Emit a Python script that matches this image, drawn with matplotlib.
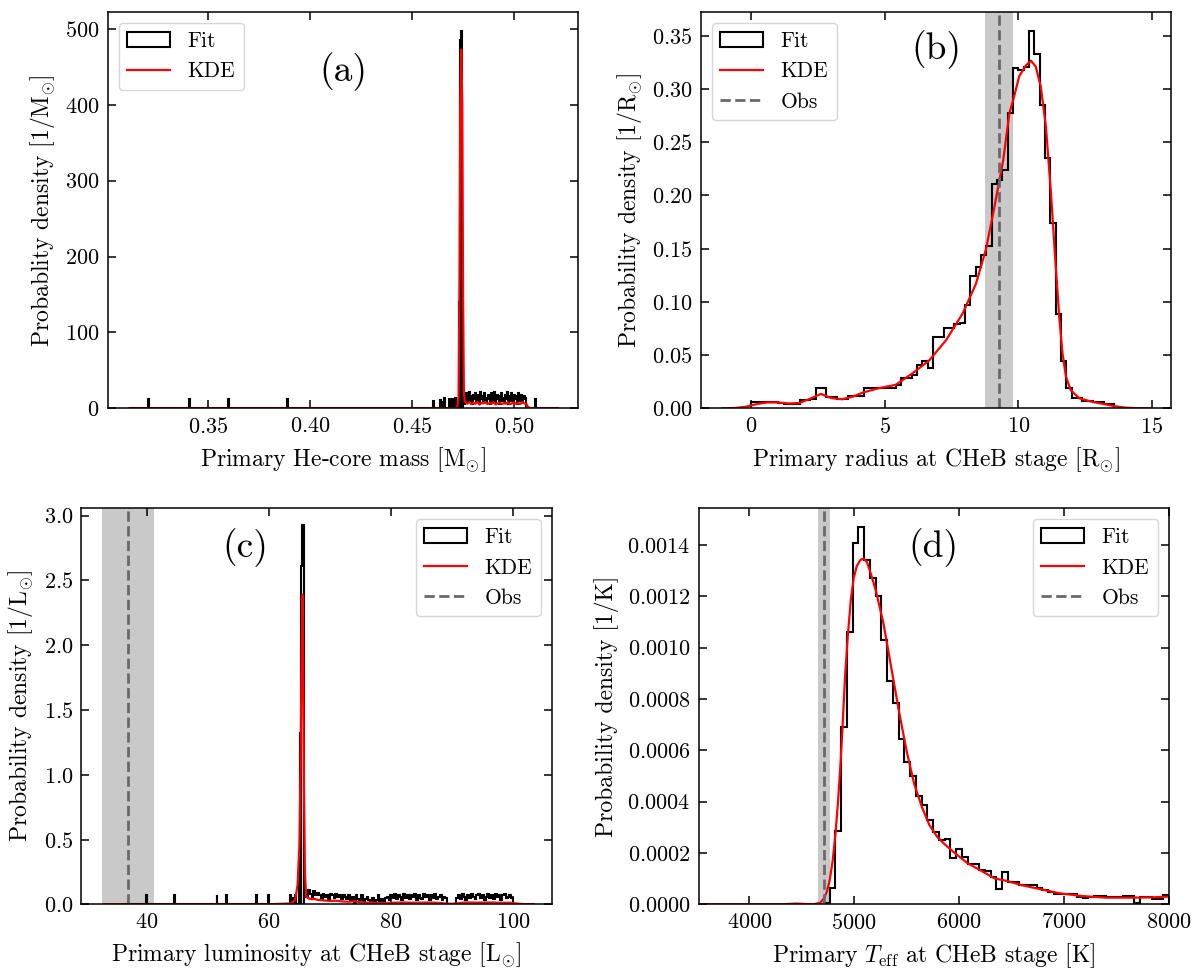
"""
Posterior densities of primary star properties: histogram (Fit), KDE and observed value
"""
import numpy as np
import matplotlib.pyplot as plt


# DATA

# (a) He-core mass: isolated single-sample bins, the main spike and a noisy plateau
a_spike_x = [0.3205, 0.3406, 0.3600, 0.3891, 0.4605, 0.4640, 0.4648, 0.4660,
             0.4681, 0.4700, 0.4712, 0.4731, 0.4736, 0.4741, 0.5107]
a_spike_h = [12, 12, 12, 12, 10, 11, 8, 13, 12, 12, 13, 140, 486, 498, 12]
a_plateau_h = [18, 6, 12, 20, 8, 14, 22, 10, 16, 6, 18, 12, 20, 8, 14, 18,
               6, 22, 12, 16, 10, 20, 8, 14, 18, 12, 6, 20, 16, 10, 22, 8,
               14, 18, 12, 6, 16, 20, 10, 14, 8, 18, 12, 22, 6, 16, 10, 20,
               14, 8, 18, 12, 16, 6, 20, 10, 14, 18, 8, 12, 16, 14]
a_kde_x = [0.3112, 0.460, 0.4712, 0.4722, 0.4728, 0.4732, 0.4736, 0.4741,
           0.4746, 0.4750, 0.4754, 0.4758,
           0.476, 0.477, 0.478, 0.479, 0.480, 0.481, 0.482, 0.483, 0.484, 0.485,
           0.486, 0.487, 0.488, 0.489, 0.490, 0.491, 0.492, 0.493, 0.494, 0.495,
           0.496, 0.497, 0.498, 0.499, 0.500, 0.501, 0.502, 0.503, 0.504, 0.505,
           0.506, 0.5068, 0.5080, 0.5217]
a_kde_y = [0, 0, 0.3, 2, 15, 150, 400, 473, 400, 150, 20, 10,
           9, 6, 8, 5.5, 7.5, 6, 8.5, 5, 7, 6.5,
           8, 5.5, 7, 6, 8, 5, 6.5, 7.5, 5.5, 7,
           6, 8, 5.5, 6.5, 7.5, 6, 7, 5.5, 8, 6.5,
           6, 2, 0.2, 0]

# (b) radius
b_edges = np.linspace(0.0, 13.6, 69)
b_hist = [0.0056, 0.0056, 0.0056, 0.0056, 0.0056, 0.0045, 0.0038, 0.0038,
          0.0038, 0.0078, 0.0078, 0.0085, 0.0188, 0.0188, 0.011, 0.011,
          0.0088, 0.0088, 0.012, 0.012, 0.012, 0.0194, 0.0194, 0.0194,
          0.019, 0.0195, 0.019, 0.022, 0.028, 0.028, 0.031, 0.041,
          0.044, 0.038, 0.067, 0.067, 0.075, 0.075, 0.079, 0.080,
          0.097, 0.124, 0.133, 0.144, 0.152, 0.211, 0.214, 0.224,
          0.277, 0.320, 0.318, 0.321, 0.354, 0.333, 0.285, 0.235,
          0.174, 0.089, 0.044, 0.019, 0.010, 0.010, 0.0069, 0.0069,
          0.0056, 0.0056, 0.0038, 0.0038]
b_kde_x = [-1.08, -0.6, -0.2, 0.2, 0.6, 1.0, 1.4, 1.8, 2.2, 2.6, 3.0, 3.4, 3.8,
           4.2, 4.79, 5.4, 6.04, 6.66, 7.29, 7.91, 8.41, 8.78, 9.03, 9.22, 9.43,
           9.66, 9.84, 10.03, 10.28, 10.47, 10.65, 10.84, 11.03, 11.22, 11.40,
           11.53, 11.65, 11.78, 11.96, 12.28, 12.77, 13.2, 13.6, 14.0, 14.5, 14.92]
b_kde_y = [0, 0.0003, 0.0015, 0.004, 0.0055, 0.0055, 0.0045, 0.005, 0.009,
           0.0135, 0.0095, 0.0085, 0.011, 0.015, 0.019, 0.022, 0.033, 0.045,
           0.064, 0.089, 0.117, 0.149, 0.18, 0.205, 0.233, 0.277, 0.293, 0.312,
           0.322, 0.3266, 0.321, 0.302, 0.265, 0.202, 0.133, 0.086, 0.052,
           0.030, 0.017, 0.0094, 0.006, 0.004, 0.002, 0.0006, 0.0001, 0]
b_obs, b_obs_err = 9.26, 0.53

# (c) luminosity
c_spike_x = [40.0, 44.5, 51.5, 53.1, 58.0, 59.9, 63.5, 63.9, 64.3]
c_spike_h = [0.07, 0.07, 0.07, 0.07, 0.07, 0.07, 0.07, 0.05, 0.07]
c_peak_x = [65.0, 65.2, 65.4, 65.6]
c_peak_h = [0.30, 1.32, 2.61, 2.93]
c_plateau_h = [0.10, 0.06, 0.11, 0.08, 0.04, 0.10, 0.07, 0.09,
               0.07, 0.04, 0.08, 0.06, 0.07, 0.03, 0.08, 0.07, 0.05, 0.08,
               0.06, 0.07, 0.04, 0.07, 0.06,
               0.04, 0.07, 0.03, 0.06, 0.0, 0.07, 0.04, 0.03, 0.07, 0.02,
               0.04, 0.06, 0.03,
               0.0, 0.05, 0.0, 0.03, 0.07, 0.0, 0.04, 0.0, 0.05,
               0.06, 0.03, 0.07, 0.05, 0.08, 0.04, 0.07, 0.06, 0.03, 0.08,
               0.05, 0.07, 0.04, 0.07, 0.06, 0.08, 0.03, 0.07, 0.05, 0.04,
               0.08, 0.06, 0.07, 0.03, 0.07, 0.05, 0.08, 0.04, 0.06, 0.07,
               0.03, 0.06, 0.05,
               0.0, 0.0, 0.0, 0.0, 0.0,
               0.05, 0.07, 0.04, 0.08, 0.06, 0.03, 0.07, 0.05, 0.08, 0.06,
               0.04, 0.07, 0.08, 0.05, 0.07, 0.03, 0.06, 0.08, 0.05, 0.07,
               0.04, 0.08, 0.06, 0.07, 0.03, 0.07, 0.08, 0.05, 0.06, 0.07,
               0.05]
c_kde_x = [33, 60, 63.5, 64.3, 64.7, 65.0, 65.2, 65.35, 65.5, 65.62, 65.75,
           65.9, 66.1, 66.5, 67, 67.5, 68, 69, 70, 71, 72, 73, 74, 75, 76, 77,
           78, 79, 80, 82, 84, 86, 88, 89, 90, 91, 92, 94, 96, 98, 99.5, 100.5,
           101.5, 103.4]
c_kde_y = [0, 0.0005, 0.006, 0.03, 0.15, 0.45, 1.1, 1.9, 2.39, 1.9, 0.9,
           0.25, 0.06, 0.045, 0.04, 0.042, 0.034, 0.03, 0.026, 0.028, 0.022,
           0.02, 0.024, 0.016, 0.012, 0.014, 0.01, 0.009, 0.012, 0.014, 0.012,
           0.014, 0.011, 0.006, 0.004, 0.008, 0.014, 0.013, 0.014, 0.012,
           0.012, 0.006, 0.002, 0]
c_obs, c_obs_err = 36.9, 4.2

# (d) effective temperature
d_edges = np.linspace(4712, 4712 + 60 * 54.8, 61)
d_hist = [6e-6, 6.2e-5, 0.000287, 0.000692, 0.001062, 0.001406, 0.001471,
          0.001341, 0.00127, 0.0012, 0.00103, 0.00087, 0.000783, 0.000643,
          0.000556, 0.0005, 0.000422, 0.000387, 0.000329, 0.00028, 0.00025,
          0.000253, 0.000179, 0.000216, 0.000186, 0.000156, 0.000156,
          0.000134, 0.00013, 0.000108, 6e-5, 0.000127, 8.8e-5, 8.8e-5,
          7.5e-5, 7.5e-5, 7.5e-5, 6.2e-5, 5.5e-5, 4.9e-5, 3.9e-5, 3.9e-5,
          3.9e-5, 3.9e-5, 3.0e-5, 2.5e-5, 3.0e-5, 3.2e-5, 3.2e-5, 2.7e-5,
          2.7e-5, 2.7e-5, 3.2e-5, 3.2e-5, 4e-6, 2.9e-5, 2.9e-5, 2.0e-5,
          2.0e-5, 3.6e-5]
d_kde_x = [3518, 4300, 4450, 4550, 4621, 4676, 4712, 4740, 4767, 4795, 4822,
           4846, 4870, 4890, 4913, 4940, 4968, 4995, 5023, 5055, 5088, 5120,
           5150, 5205, 5279, 5352, 5425, 5498, 5571, 5644, 5717, 5790, 5863,
           5973, 6082, 6228, 6338, 6447, 6594, 6740, 6959, 7178, 7397, 7617,
           7836, 8000, 8100]
d_kde_y = [0, 0, 3e-6, 1e-6, 1e-6, 6e-6, 2.3e-5, 5e-5, 9.5e-5, 0.00017,
           0.000277, 0.0004, 0.00055, 0.0007, 0.000887, 0.00105, 0.001186,
           0.00127, 0.001316, 0.00134, 0.001348, 0.001335, 0.0013, 0.001225,
           0.001095, 0.000926, 0.000757, 0.000601, 0.000471, 0.000381,
           0.000309, 0.000264, 0.000234, 0.000195, 0.00016, 0.000127,
           0.000101, 9.2e-5, 7.5e-5, 6.2e-5, 4.3e-5, 3.2e-5, 2.6e-5, 2.6e-5,
           2.7e-5, 3e-5, 3e-5]
d_obs, d_obs_err = 4710, 58


# STYLE

plt.rcParams.update({
    'font.family': 'serif',
    'font.serif': ['cmr10'],
    'mathtext.fontset': 'cm',
    'axes.formatter.use_mathtext': True,
    'axes.unicode_minus': False,
    'axes.linewidth': 1.1,
    'font.size': 16,
    'xtick.labelsize': 16,
    'ytick.labelsize': 16,
    'xtick.direction': 'in',
    'ytick.direction': 'in',
    'xtick.top': True,
    'ytick.right': True,
    'xtick.major.size': 5.5,
    'ytick.major.size': 5.5,
    'xtick.major.width': 1.1,
    'ytick.major.width': 1.1,
    'xtick.major.pad': 6,
    'ytick.major.pad': 6,
    'legend.fontsize': 15.5,
})


def sparse_bins(lo, hi, bins):
    """bins: list of (left, right, height); gaps are filled with empty bins"""
    edges, vals = [lo], []
    for left, right, h in sorted(bins):
        if left > edges[-1]:
            vals.append(0.0)
            edges.append(left)
        vals.append(h)
        edges.append(right)
    if hi > edges[-1]:
        vals.append(0.0)
        edges.append(hi)
    return np.array(edges), np.array(vals)


def fit_hist(ax, edges, vals):
    edges = np.asarray(edges, dtype=float)
    ax.hist(edges[:-1], bins=edges, weights=vals, histtype='step',
            color='k', lw=1.5, label='Fit')


def kde_line(ax, x, y):
    ax.plot(x, y, color='red', lw=1.6, label='KDE')


def obs_band(ax, val, err):
    ax.axvspan(val - err, val + err, color='0.5', alpha=0.42, lw=0, zorder=0)
    ax.axvline(val, color='dimgray', ls='--', lw=2, label='Obs')


fig = plt.figure(figsize=(12, 9.77), dpi=100)
ax_a = fig.add_axes([0.0900, 0.5821, 0.3917, 0.4053])
ax_b = fig.add_axes([0.5842, 0.5821, 0.3917, 0.4053])
ax_c = fig.add_axes([0.0679, 0.0744, 0.3917, 0.4053])
ax_d = fig.add_axes([0.5823, 0.0744, 0.3917, 0.4053])


# (a)
w = 0.0005
a_bins = [(x - w / 2, x + w / 2, h) for x, h in zip(a_spike_x, a_spike_h)]
a_bins += [(0.4750 + i * w, 0.4750 + (i + 1) * w, h) for i, h in enumerate(a_plateau_h)]
edges, vals = sparse_bins(0.3112, 0.5217, a_bins)
fit_hist(ax_a, edges, vals)
kde_line(ax_a, a_kde_x, a_kde_y)
ax_a.set_xlim(0.3008, 0.5314)
ax_a.set_ylim(0, 522)
ax_a.set_xticks([0.35, 0.40, 0.45, 0.50])
ax_a.set_xlabel(r'Primary He-core mass [$\mathrm{M}_{\odot}$]', fontsize=17, labelpad=6)
ax_a.set_ylabel(r'Probablity density [1/$\mathrm{M}_{\odot}$]', fontsize=17, labelpad=6)
ax_a.legend(loc='upper left')
ax_a.text(0.5, 0.85, '(a)', transform=ax_a.transAxes, fontsize=27,
          ha='center', va='center')

# (b)
fit_hist(ax_b, b_edges, b_hist)
kde_line(ax_b, b_kde_x, b_kde_y)
obs_band(ax_b, b_obs, b_obs_err)
ax_b.set_xlim(-1.89, 15.72)
ax_b.set_ylim(0, 0.372)
ax_b.set_xticks([0, 5, 10, 15])
ax_b.set_xlabel(r'Primary radius at CHeB stage [$\mathrm{R}_{\odot}$]', fontsize=17, labelpad=6)
ax_b.set_ylabel(r'Probability density [1/$\mathrm{R}_{\odot}$]', fontsize=17, labelpad=6)
ax_b.legend(loc='upper left')
ax_b.text(0.5, 0.905, '(b)', transform=ax_b.transAxes, fontsize=27,
          ha='center', va='center')

# (c)
wc = 0.15
c_bins = [(x - wc / 2, x + wc / 2, h) for x, h in zip(c_spike_x, c_spike_h)]
c_bins += [(x - 0.1, x + 0.1, h) for x, h in zip(c_peak_x, c_peak_h)]
c_bins += [(65.8 + i * 0.3, 65.8 + (i + 1) * 0.3, h) for i, h in enumerate(c_plateau_h)]
edges, vals = sparse_bins(36.3, 103.4, c_bins)
fit_hist(ax_c, edges, vals)
kde_line(ax_c, c_kde_x, c_kde_y)
obs_band(ax_c, c_obs, c_obs_err)
ax_c.set_xlim(29.3, 106.3)
ax_c.set_ylim(0, 3.057)
ax_c.set_xticks([40, 60, 80, 100])
ax_c.set_yticks([0, 0.5, 1.0, 1.5, 2.0, 2.5, 3.0])
ax_c.set_xlabel(r'Primary luminosity at CHeB stage [$\mathrm{L}_{\odot}$]', fontsize=17, labelpad=6)
ax_c.set_ylabel(r'Probability density [1/$\mathrm{L}_{\odot}$]', fontsize=17, labelpad=6)
ax_c.legend(loc='upper right')
ax_c.text(0.348, 0.90, '(c)', transform=ax_c.transAxes, fontsize=27,
          ha='center', va='center')

# (d)
fit_hist(ax_d, d_edges, d_hist)
kde_line(ax_d, d_kde_x, d_kde_y)
obs_band(ax_d, d_obs, d_obs_err)
ax_d.set_xlim(3518, 8000)
ax_d.set_ylim(0, 0.001543)
ax_d.set_xticks([4000, 5000, 6000, 7000, 8000])
ax_d.set_yticks(np.arange(0, 0.00141, 0.0002))
ax_d.set_xlabel(r'Primary $T_\mathrm{eff}$ at CHeB stage [K]', fontsize=17, labelpad=6)
ax_d.set_ylabel(r'Probability density [1/K]', fontsize=17, labelpad=6)
ax_d.legend(loc='upper right')
ax_d.text(0.5, 0.90, '(d)', transform=ax_d.transAxes, fontsize=27,
          ha='center', va='center')

fig.savefig('out.png', dpi=100)
